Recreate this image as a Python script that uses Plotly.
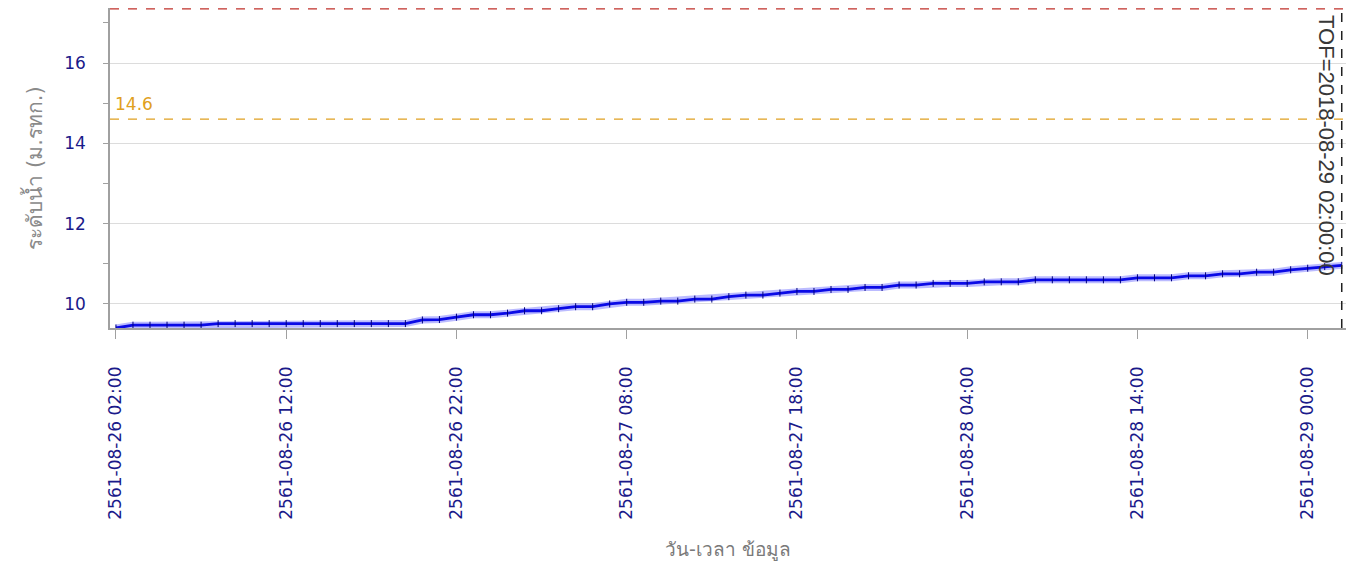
import plotly.graph_objects as go

# hourly water level readings (m. MSL), 2561-08-26 02:00 .. 2561-08-29 02:00
levels = [
    9.40, 9.47, 9.47, 9.47, 9.47, 9.47,                      # h0-5
    9.51, 9.51, 9.51, 9.51, 9.51, 9.51, 9.51, 9.51, 9.51, 9.51, 9.51, 9.51,  # h6-17
    9.60, 9.61, 9.67, 9.73, 9.73, 9.77, 9.83, 9.83, 9.88, 9.93, 9.93,  # h18-28
    10.00, 10.04, 10.04, 10.07, 10.07, 10.12, 10.12, 10.18, 10.22, 10.22,  # h29-38
    10.27, 10.31, 10.31, 10.36, 10.36, 10.41, 10.41, 10.47, 10.47,  # h39-47
    10.51, 10.51, 10.51, 10.55, 10.55, 10.55,                # h48-53
    10.60, 10.60, 10.60, 10.60, 10.60, 10.60,                # h54-59
    10.65, 10.65, 10.65, 10.70, 10.70, 10.75, 10.75, 10.79, 10.79,  # h60-68
    10.85, 10.89, 10.93, 10.96,                              # h69-72
]
# Thai Buddhist-era timestamps, one per hour starting 2561-08-26 02:00
base_day = 26
base_hour = 2
time_labels = []
for i in range(len(levels)):
    total = base_hour + i
    d = base_day + total // 24
    h = total % 24
    time_labels.append(f"2561-08-{d:02d} {h:02d}:00")

bank_level = 17.35
warn_level = 14.6
tof_time = "2561-08-29 02:00"
tof_label = "TOF=2018-08-29 02:00:00"
x_range = ["2561-08-26 01:39", "2561-08-29 02:15"]
y_range = [9.40, 17.37]
y_major = [10, 12, 14, 16]
y_minor = [11, 13, 15, 17]

y_title = "ระดับน้ำ (ม.รทก.)"
x_title = "วัน-เวลา ข้อมูล"

fig = go.Figure()
# glow
fig.add_trace(go.Scatter(x=time_labels, y=levels, mode="lines",
                         line=dict(color="rgba(60,60,255,0.35)", width=7),
                         hoverinfo="skip", showlegend=False))
fig.add_trace(go.Scatter(x=time_labels, y=levels, mode="lines+markers",
                         line=dict(color="#0a0ae6", width=2.8),
                         marker=dict(symbol="line-ns", size=5, line=dict(color="#000080", width=1)),
                         showlegend=False))

fig.add_shape(type="line", xref="paper", x0=0, x1=1, yref="y", y0=bank_level, y1=bank_level,
              line=dict(color="#c0302a", width=1.3, dash="dash"))
fig.add_shape(type="line", xref="paper", x0=0, x1=1, yref="y", y0=warn_level, y1=warn_level,
              line=dict(color="#e0a020", width=1.3, dash="dash"))
fig.add_shape(type="line", xref="x", x0=tof_time, x1=tof_time, yref="paper", y0=0, y1=1,
              line=dict(color="#202020", width=1.5, dash="dash"))

fig.add_annotation(xref="paper", x=0.0, yref="y", y=warn_level, text=str(warn_level),
                   showarrow=False, xanchor="left", yanchor="bottom", yshift=3, xshift=3,
                   font=dict(family="DejaVu Sans", size=17, color="#e0a020"))
fig.add_annotation(xref="x", x=tof_time, yref="paper", y=0.985, text=tof_label,
                   showarrow=False, textangle=90, xanchor="right", yanchor="top", xshift=-1,
                   font=dict(family="Liberation Sans", size=22, color="#383838"))

fig.update_layout(
    width=1350, height=561,
    margin=dict(l=102, r=12, t=0, b=241),
    paper_bgcolor="white", plot_bgcolor="white",
    xaxis=dict(
        type="date", range=x_range, automargin=False,
        tick0="2561-08-26 02:00", dtick=36000000,
        tickformat="%Y-%m-%d %H:%M", tickangle=-90,
        ticks="outside", ticklen=9, tickcolor="#a0a0a0",
        showline=True, linecolor="#a0a0a0", linewidth=1.5,
        showgrid=False, zeroline=False,
        tickfont=dict(family="DejaVu Sans", size=17, color="#1a1a8a"),
        ticklabelstandoff=21,
        title=dict(text=x_title, standoff=24,
                   font=dict(family="DejaVu Sans", size=19, color="#7a7a7a")),
    ),
    yaxis=dict(
        range=y_range, tickvals=y_major, automargin=False,
        ticks="outside", ticklen=5, tickcolor="#a0a0a0",
        minor=dict(tickvals=y_minor, ticks="outside", ticklen=5, tickcolor="#a0a0a0", showgrid=False),
        showline=True, linecolor="#a0a0a0", linewidth=1.5,
        showgrid=True, gridcolor="#dcdcdc", gridwidth=1, zeroline=False,
        tickfont=dict(family="DejaVu Sans", size=17, color="#1a1a8a"),
        ticklabelstandoff=14,
        title=dict(text=y_title, standoff=16,
                   font=dict(family="DejaVu Sans", size=21, color="#8a8a8a")),
    ),
)

fig.write_html("out.html")
